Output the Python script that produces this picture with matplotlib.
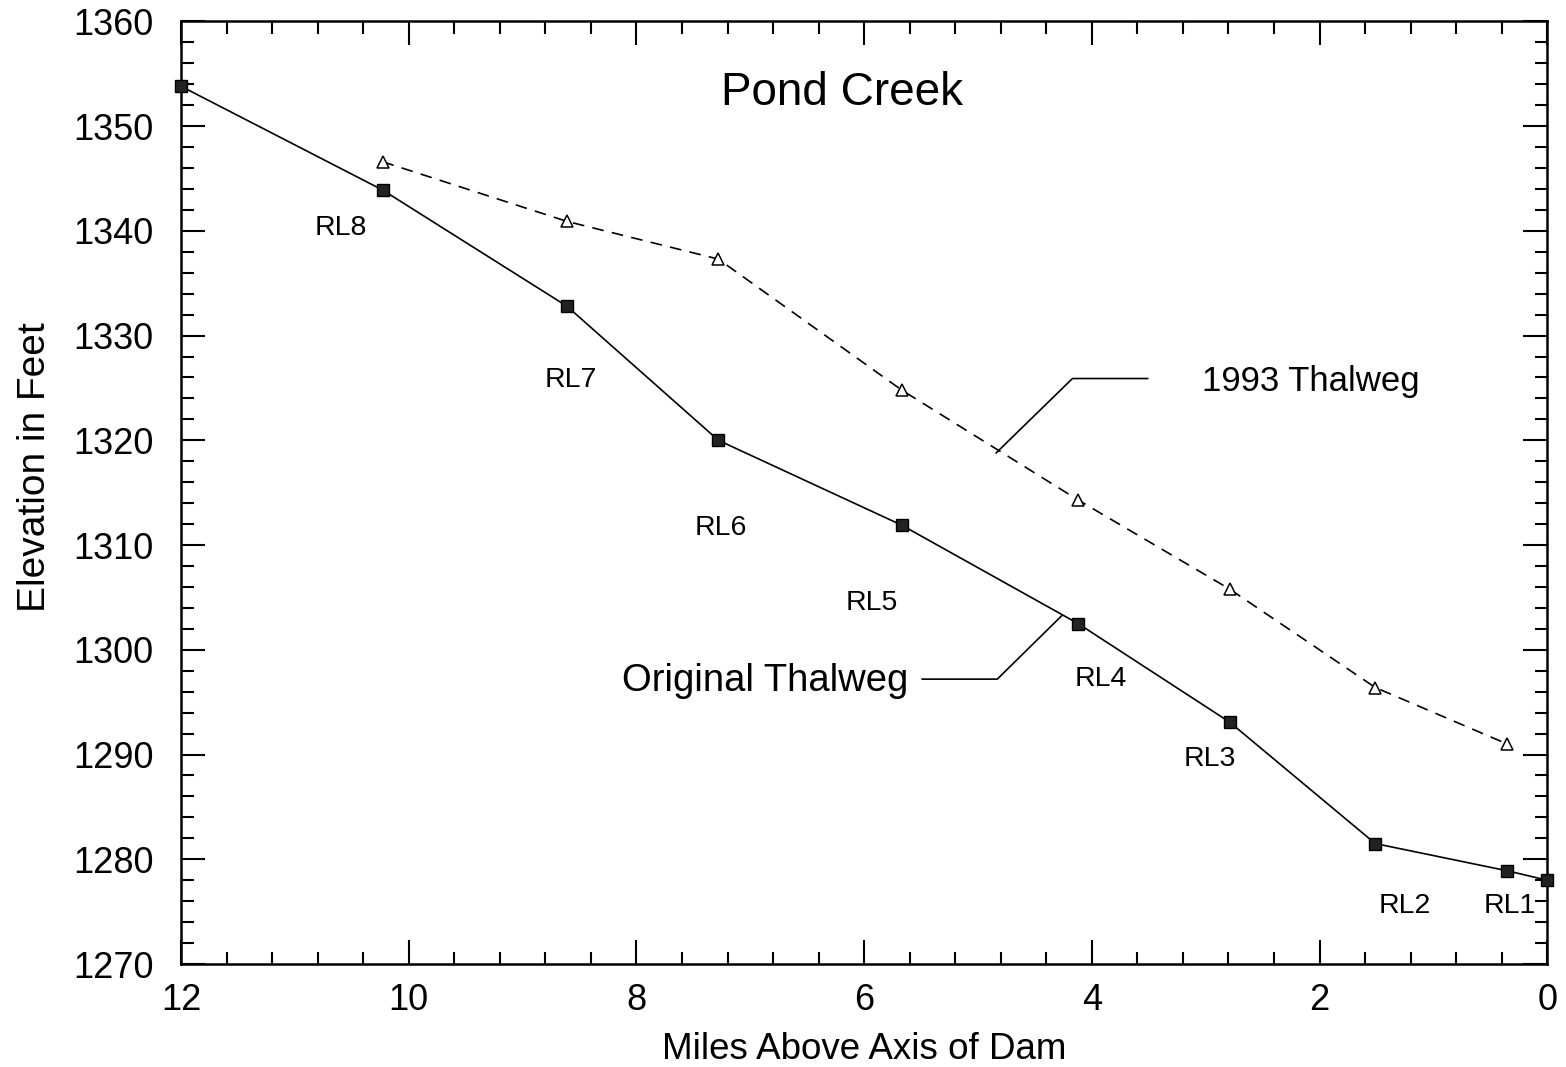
import matplotlib
matplotlib.use("Agg")
import matplotlib.pyplot as plt
from matplotlib.ticker import MultipleLocator

plt.rcParams['font.family'] = ['Liberation Sans', 'DejaVu Sans']

# Data
orig_miles = [12.0, 10.23, 8.61, 7.28, 5.67, 4.12, 2.79, 1.51, 0.35, 0.0]
orig_elev = [1353.8, 1343.9, 1332.8, 1320.0, 1311.9, 1302.5, 1293.1, 1281.5, 1278.9, 1278.0]

t93_miles = [10.23, 8.61, 7.28, 5.67, 4.12, 2.79, 1.51, 0.35]
t93_elev = [1346.6, 1340.9, 1337.3, 1324.8, 1314.3, 1305.8, 1296.4, 1291.0]

rl_labels = ["RL8", "RL7", "RL6", "RL5", "RL4", "RL3", "RL2", "RL1"]
rl_x = [10.60, 8.58, 7.26, 5.93, 3.92, 2.96, 1.25, 0.33]
rl_y = [1340.3, 1325.8, 1311.6, 1304.5, 1297.2, 1289.6, 1275.5, 1275.5]

fig = plt.figure(figsize=(15.66, 10.67), dpi=100)
ax = fig.add_axes([0.1156, 0.0965, 0.8724, 0.8835])

ax.plot(orig_miles, orig_elev, color='black', lw=1.2, marker='s', ms=8.5,
        mfc='#222222', mec='black', mew=1.0, clip_on=False, zorder=3)
ax.plot(t93_miles, t93_elev, color='black', lw=1.2, ls=(0, (7, 5)), marker='^',
        ms=8, mfc='white', mec='black', mew=1.1, zorder=3)

ax.set_xlim(12, 0)
ax.set_ylim(1270, 1360)
ax.xaxis.set_major_locator(MultipleLocator(2))
ax.xaxis.set_minor_locator(MultipleLocator(0.4))
ax.yaxis.set_major_locator(MultipleLocator(10))
ax.yaxis.set_minor_locator(MultipleLocator(2))
ax.tick_params(which='both', direction='in', top=True, right=True, width=1.5)
ax.tick_params(which='major', length=17, labelsize=26)
ax.tick_params(axis='y', which='major', pad=20)
ax.tick_params(axis='x', which='major', pad=14)
ax.tick_params(which='minor', length=9)
for s in ax.spines.values():
    s.set_linewidth(1.8)

ax.set_xlabel("Miles Above Axis of Dam", fontsize=26.5, labelpad=10)
ax.set_ylabel("Elevation in Feet", fontsize=28)
ax.yaxis.set_label_coords(-0.094, 0.527)

ax.text(6.19, 1353.2, "Pond Creek", fontsize=33, ha='center', va='center')

for lab, x, y in zip(rl_labels, rl_x, rl_y):
    ax.text(x, y, lab, fontsize=20.5, ha='center', va='center')

# Leader lines
ax.plot([5.49, 4.83, 4.26], [1297.2, 1297.2, 1303.3], color='black', lw=1.2)
ax.text(5.61, 1297.0, "Original Thalweg", fontsize=27.5, ha='right', va='center')

ax.plot([4.84, 4.17, 3.51], [1318.8, 1325.9, 1325.9], color='black', lw=1.2)
ax.text(3.03, 1325.6, "1993 Thalweg", fontsize=25, ha='left', va='center')

fig.savefig("out.png", dpi=100)
